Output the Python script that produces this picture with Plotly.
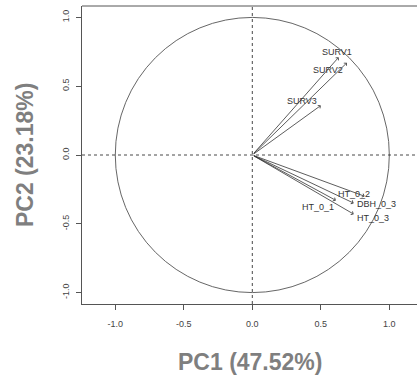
import plotly.graph_objects as go

# PCA variable loadings (correlation circle)
variables = ["SURV1", "SURV2", "SURV3", "HT_0_2", "DBH_0_3", "HT_0_1", "HT_0_3"]
pc1 = [0.63, 0.69, 0.50, 0.82, 0.74, 0.61, 0.74]
pc2 = [0.71, 0.67, 0.36, -0.30, -0.35, -0.33, -0.43]
# label anchor points
label_x = [0.62, 0.55, 0.36, 0.74, 0.91, 0.48, 0.88]
label_y = [0.75, 0.62, 0.39, -0.28, -0.355, -0.38, -0.46]

tick_vals = [-1.0, -0.5, 0.0, 0.5, 1.0]
tick_text = ["-1.0", "-0.5", "0.0", "0.5", "1.0"]

x_title = "PC1 (47.52%)"
y_title = "PC2 (23.18%)"

x_range = [-1.243, 1.202]
y_range = [-1.083, 1.083]

ink = "#333333"
title_gray = "#7f7f7f"

fig = go.Figure()

# invisible trace so the axes are drawn
fig.add_trace(go.Scatter(x=[0], y=[0], mode="markers",
                         marker=dict(size=1, opacity=0), hoverinfo="skip",
                         showlegend=False))

shapes = [
    # unit circle
    dict(type="circle", xref="x", yref="y", x0=-1, y0=-1, x1=1, y1=1,
         line=dict(color="#555555", width=0.9)),
    # dashed axes through the origin
    dict(type="line", xref="paper", yref="y", x0=0, x1=1, y0=0, y1=0,
         line=dict(color=ink, width=0.9, dash="3px,3px")),
    dict(type="line", xref="x", yref="paper", x0=0, x1=0, y0=0, y1=1,
         line=dict(color=ink, width=0.9, dash="3px,3px")),
    # frame: top edge
    dict(type="line", xref="paper", yref="paper", x0=0, x1=1, y0=1, y1=1,
         line=dict(color="#555555", width=1)),
]

annotations = []
for name, vx, vy, lx, ly in zip(variables, pc1, pc2, label_x, label_y):
    annotations.append(dict(
        x=vx, y=vy, xref="x", yref="y", ax=0, ay=0, axref="x", ayref="y",
        text="", showarrow=True, arrowhead=4, arrowsize=0.9, arrowwidth=0.8,
        arrowcolor=ink, standoff=0, startstandoff=0))
    annotations.append(dict(
        x=lx, y=ly, xref="x", yref="y", text=name, showarrow=False,
        font=dict(family="Liberation Sans, Arial", size=9, color=ink),
        xanchor="center", yanchor="middle"))

annotations.append(dict(
    x=0.5015, y=-0.195, xref="paper", yref="paper", text="<b>%s</b>" % x_title,
    showarrow=False, xanchor="center", yanchor="middle",
    font=dict(family="Liberation Sans, Arial", size=23, color=title_gray)))
annotations.append(dict(
    x=-0.17, y=0.5, xref="paper", yref="paper", text="<b>%s</b>" % y_title,
    showarrow=False, xanchor="center", yanchor="middle", textangle=-90,
    font=dict(family="Liberation Sans, Arial", size=23, color=title_gray)))

axis_common = dict(
    showgrid=False, zeroline=False, showline=True, linecolor="#555555",
    linewidth=1, ticks="outside", ticklen=5, tickwidth=1, tickcolor="#555555",
    tickvals=tick_vals, ticktext=tick_text,
    tickfont=dict(family="Liberation Sans, Arial", size=9, color="#444444"),
)

fig.update_layout(
    width=417, height=377,
    margin=dict(l=82, r=0, t=6, b=73),
    paper_bgcolor="white", plot_bgcolor="white",
    xaxis=dict(range=x_range, ticklabelstandoff=6, **axis_common),
    yaxis=dict(range=y_range, tickangle=-90, ticklabelstandoff=3, **axis_common),
    shapes=shapes, annotations=annotations, showlegend=False,
)

fig.write_html("out.html")
